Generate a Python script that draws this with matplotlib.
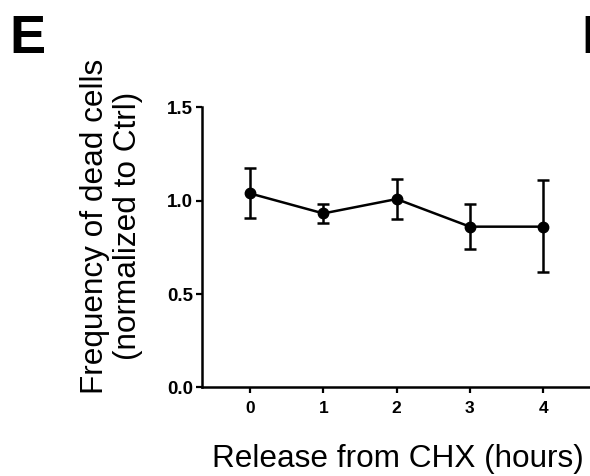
"""Frequency of dead cells after release from CHX (panel E)."""
import matplotlib

matplotlib.use("Agg")
import matplotlib.pyplot as plt
import numpy as np

hours = [0, 1, 2, 3, 4]
dead_freq = [1.039, 0.932, 1.009, 0.861, 0.861]
err_low = [0.130, 0.050, 0.109, 0.120, 0.245]
err_high = [0.134, 0.050, 0.109, 0.119, 0.248]

y_ticks = [0.0, 0.5, 1.0, 1.5]
y_tick_labels = ["0.0", "0.5", "1.0", "1.5"]

plt.rcParams["font.family"] = ["Liberation Sans", "DejaVu Sans"]

fig = plt.figure(figsize=(5.90, 4.76), dpi=100)
ax = fig.add_axes([0.342, 0.1863, 0.658, 0.588])

ax.errorbar(
    hours,
    dead_freq,
    yerr=np.array([err_low, err_high]),
    color="black",
    marker="o",
    markersize=7.5,
    linewidth=1.8,
    elinewidth=1.8,
    capsize=4.5,
    capthick=1.8,
    clip_on=False,
)

ax.set_xlim(-0.66, 4.64)
ax.set_ylim(0, 1.5)
ax.set_xticks(hours)
ax.set_xticklabels([str(h) for h in hours], fontsize=12.5, fontweight="bold")
ax.set_yticks(y_ticks)
ax.set_yticklabels(y_tick_labels, fontsize=13.5, fontweight="bold")
ax.tick_params(direction="out", length=4.5, width=1.6, pad=2)
ax.tick_params(axis="x", pad=5)

for side in ["top", "right"]:
    ax.spines[side].set_visible(False)
for side in ["left", "bottom"]:
    ax.spines[side].set_linewidth(1.8)

fig.text(
    111.5 / 590, 1 - 226 / 476,
    "Frequency of dead cells\n(normalized to Ctrl)",
    rotation=90, ha="center", va="center", multialignment="center",
    fontsize=22.7, linespacing=1.12,
)
fig.text(397.5 / 590, 9 / 476, "Release from CHX (hours)",
         ha="center", va="baseline", fontsize=22.7)

# panel letters (F belongs to the next panel and is cut at the edge)
fig.text(9 / 590, 1 - 52.7 / 476, "E", fontsize=39, fontweight="bold", va="baseline")
fig.text(581 / 590, 1 - 52.7 / 476, "F", fontsize=39, fontweight="bold", va="baseline")

fig.savefig("out.png", dpi=100)
